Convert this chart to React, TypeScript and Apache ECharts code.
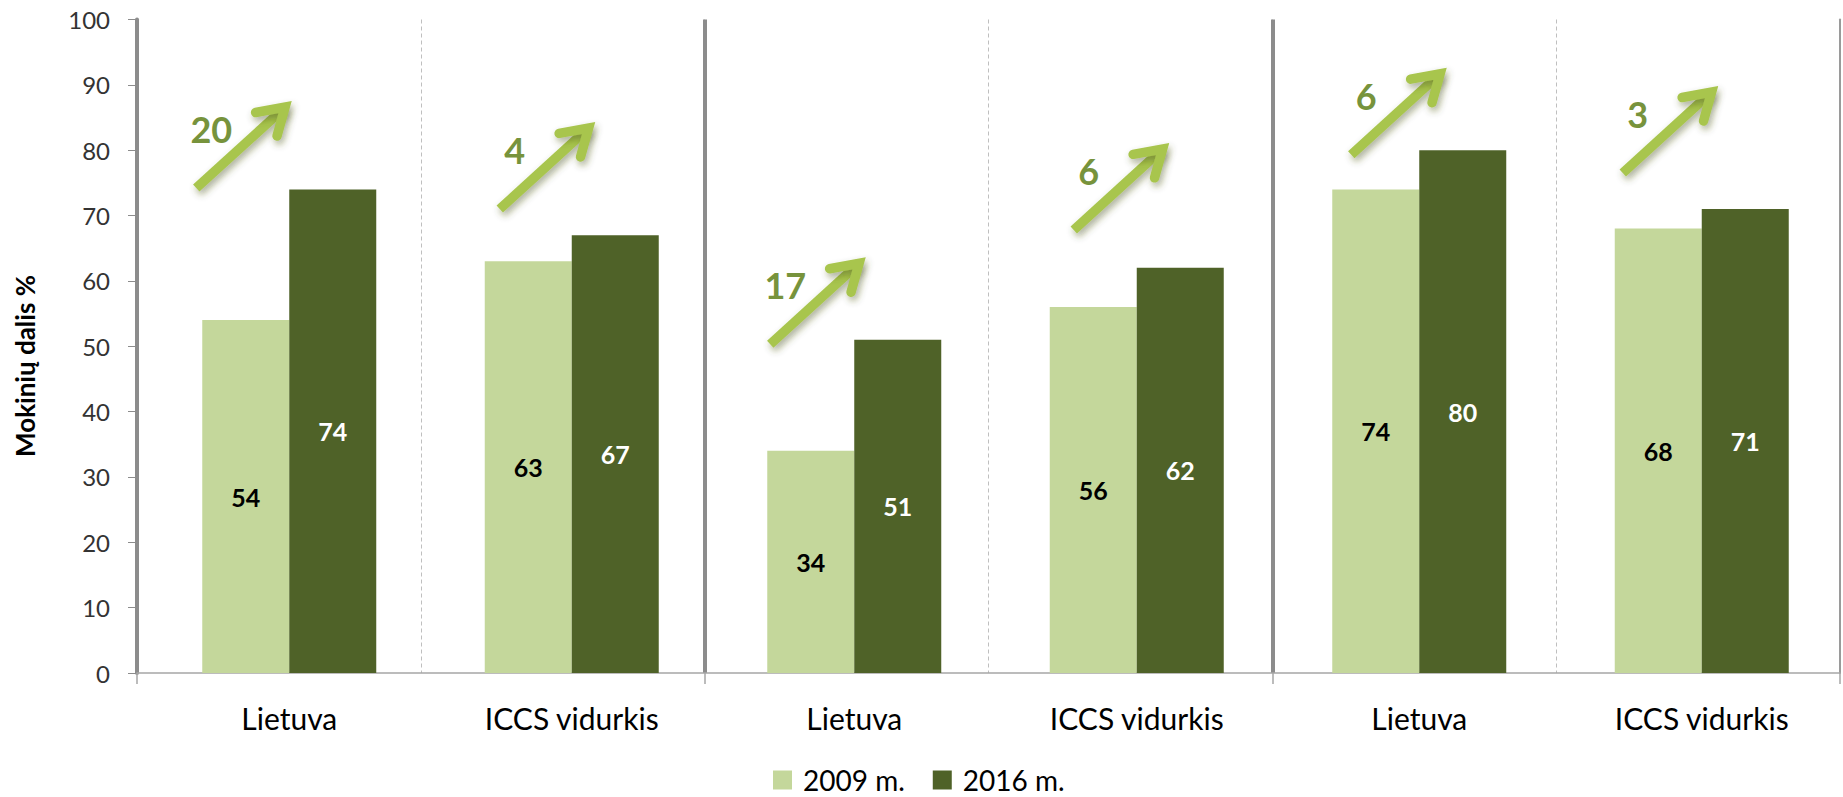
import React, { useEffect, useRef } from "react";
import * as echarts from "echarts";

// ---- data ----
const categories = ["Lietuva", "ICCS vidurkis", "Lietuva", "ICCS vidurkis", "Lietuva", "ICCS vidurkis"];
const groups = ["A", "B", "C"];
const seriesNames = ["2009 m.", "2016 m."];
const values2009 = [54, 63, 34, 56, 74, 68];
const values2016 = [74, 67, 51, 62, 80, 71];
const yMin = 0;
const yMax = 100;
const yInterval = 10;
const yTitle = "Mokinių dalis %";

// ---- annotation layout (arrow start relative to bar-group centre, in px / axis value) ----
const arrowDx = [-93, -72, -84, -63, -68, -79];
const arrowBase = [74.2, 71.0, 50.3, 67.8, 79.3, 76.5];

const FONT = "Lato";
const LIGHT = "#C4D79B";
const DARK = "#4F6228";
const ARROW = "#A8C54D";
const NUM = "#77933C";
const AXIS = "#8C8C8C";

const GRID_TOP = 19.5;
const GRID_H = 653.5;
const GRID_W = 1703;

export default function App() {
  const ref = useRef<HTMLDivElement>(null);
  useEffect(() => {
    if (!ref.current) return;
    const chart = echarts.init(ref.current, null, { renderer: "svg" });
    chart.setOption({
      animation: false,
      backgroundColor: "#ffffff",
      textStyle: { fontFamily: FONT },
      legend: {
        data: seriesNames,
        left: 773,
        top: 766,
        padding: 0,
        icon: "rect",
        itemWidth: 19,
        itemHeight: 19,
        itemGap: 28,
        textStyle: { fontSize: 28, lineHeight: 28, color: "#000", fontFamily: FONT, padding: [0, 0, 0, 6] },
      },
      grid: [
        { left: 137, top: GRID_TOP, width: GRID_W, height: GRID_H, containLabel: false },
        { left: 148, top: GRID_TOP, width: GRID_W, height: GRID_H, containLabel: false },
      ],
      xAxis: [
        {
          type: "category",
          gridIndex: 0,
          data: categories,
          position: "bottom",
          boundaryGap: true,
          axisLine: { show: true, lineStyle: { color: "#A6A6A6", width: 1.5 } },
          axisTick: { show: false },
          axisLabel: { show: false },
          splitLine: { show: true, interval: 0, lineStyle: { color: "#BFBFBF", width: 1, type: [4, 3] } },
        },
        {
          type: "category",
          gridIndex: 0,
          data: groups,
          position: "bottom",
          boundaryGap: true,
          axisLine: { show: false },
          axisTick: { show: true, length: 11, lineStyle: { color: "#A6A6A6", width: 1.5 } },
          axisLabel: { show: false },
          splitLine: {
            show: true,
            interval: 0,
            showMaxLine: false,
            lineStyle: { color: AXIS, width: 4 },
          },
        },
        {
          type: "category",
          gridIndex: 1,
          data: categories,
          position: "bottom",
          boundaryGap: true,
          axisLine: { show: false },
          axisTick: { show: false },
          axisLabel: {
            show: true,
            interval: 0,
            margin: 30,
            fontSize: 30,
            lineHeight: 30,
            color: "#000",
            fontFamily: FONT,
          },
          splitLine: { show: false },
        },
      ],
      yAxis: [
        {
          type: "value",
          gridIndex: 0,
          min: yMin,
          max: yMax,
          interval: yInterval,
          axisLine: { show: true, lineStyle: { color: AXIS, width: 4 } },
          axisTick: { show: true, length: 9, lineStyle: { color: AXIS, width: 1 } },
          axisLabel: { margin: 27, fontSize: 24, color: "#333", fontFamily: FONT },
          splitLine: { show: false },
        },
        {
          type: "value",
          gridIndex: 1,
          min: yMin,
          max: yMax,
          interval: yInterval,
          show: false,
        },
        {
          type: "value",
          gridIndex: 0,
          position: "right",
          min: yMin,
          max: yMax,
          interval: yInterval,
          axisLine: { show: true, lineStyle: { color: "#9A9A9A", width: 2 } },
          axisTick: { show: false },
          axisLabel: { show: false },
          splitLine: { show: false },
        },
      ],
      series: [
        {
          name: seriesNames[0],
          type: "bar",
          xAxisIndex: 2,
          yAxisIndex: 1,
          data: values2009,
          barWidth: 87,
          barGap: "0%",
          itemStyle: { color: LIGHT },
          label: {
            show: true,
            position: "inside",
            fontSize: 25,
            fontWeight: "bold",
            color: "#000",
            fontFamily: FONT,
          },
        },
        {
          name: seriesNames[1],
          type: "bar",
          xAxisIndex: 2,
          yAxisIndex: 1,
          data: values2016,
          barWidth: 87,
          barGap: "0%",
          itemStyle: { color: DARK },
          label: {
            show: true,
            position: "inside",
            fontSize: 25,
            fontWeight: "bold",
            color: "#fff",
            fontFamily: FONT,
          },
        },
      ],
    });

    // arrows with increase numbers
    const vec = [95.5, -87];
    const len = Math.hypot(vec[0], vec[1]);
    const ux = vec[0] / len;
    const uy = vec[1] / len;
    const half = (32 * Math.PI) / 180;
    const lw = 9.5;
    const miter = lw / 2 / Math.sin(half);
    const armLen = 30;
    const back = Math.atan2(-uy, -ux);
    const shadow = {
      shadowBlur: 7,
      shadowColor: "rgba(70,80,30,0.45)",
      shadowOffsetX: 2,
      shadowOffsetY: 4,
    };
    const graphics: any[] = [];
    categories.forEach((_, i) => {
      const cx = chart.convertToPixel({ xAxisIndex: 2 }, i) as number;
      const sy = chart.convertToPixel({ yAxisIndex: 1 }, arrowBase[i]) as number;
      const sx = cx + arrowDx[i];
      const tx = sx + vec[0];
      const ty = sy + vec[1];
      const vx = tx - ux * miter;
      const vy = ty - uy * miter;
      const a1 = [vx + armLen * Math.cos(back + half), vy + armLen * Math.sin(back + half)];
      const a2 = [vx + armLen * Math.cos(back - half), vy + armLen * Math.sin(back - half)];
      graphics.push({
        type: "line",
        z: 100,
        shape: { x1: sx, y1: sy, x2: vx, y2: vy },
        style: { stroke: ARROW, lineWidth: lw, lineCap: "butt", ...shadow },
      });
      graphics.push({
        type: "polyline",
        z: 100,
        shape: { points: [a1, [vx, vy], a2] },
        style: { stroke: ARROW, fill: null, lineWidth: lw, lineJoin: "miter", miterLimit: 10, lineCap: "round", ...shadow },
      });
      graphics.push({
        type: "text",
        z: 101,
        x: sx + 15,
        y: sy - 59,
        style: {
          text: String(values2016[i] - values2009[i]),
          fontSize: 36,
          fontWeight: "bold",
          fontFamily: FONT,
          fill: NUM,
          textAlign: "center",
          textVerticalAlign: "middle",
        },
      });
    });
    graphics.push({
      type: "text",
      x: 25,
      y: 366,
      rotation: Math.PI / 2,
      style: {
        text: yTitle,
        fontSize: 26,
        fontWeight: "bold",
        fontFamily: FONT,
        fill: "#000",
        textAlign: "center",
        textVerticalAlign: "middle",
      },
    });
    chart.setOption({ graphic: graphics });

    return () => chart.dispose();
  }, []);
  return (
    <div
      ref={ref}
      style={{ position: "absolute", left: 0, top: 0, width: 1843, height: 797, background: "#fff" }}
    />
  );
}
